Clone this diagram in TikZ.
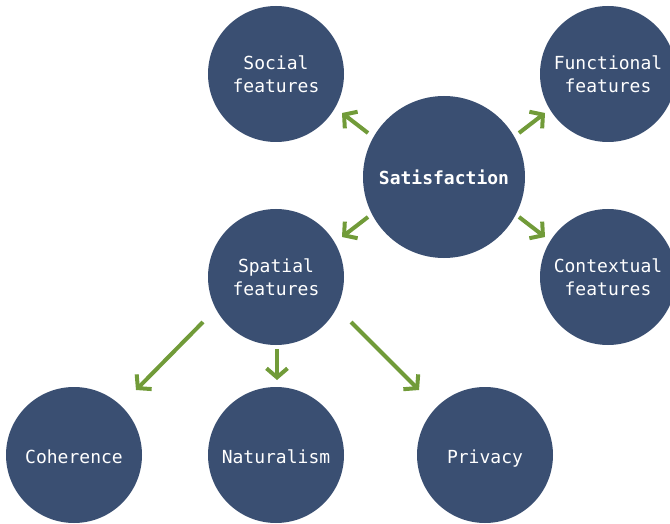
\documentclass[tikz,border=0pt]{standalone}
\usepackage{fontspec}
\setmonofont{DejaVu Sans Mono}
\usetikzlibrary{arrows.meta}
\definecolor{bubble}{RGB}{58,79,114}
\definecolor{link}{RGB}{113,155,57}
\tikzset{
  bubble/.style={circle, fill=bubble, draw=none, minimum size=#1, inner sep=0pt,
    text=white, align=center, font=\ttfamily\fontsize{18}{23}\selectfont},
  bubble/.default=136pt,
  oneline/.style={text height=18pt, text depth=2pt},
  link/.style={draw=link, line width=4pt,
    -{Straight Barb[length=9pt,width=21pt,line width=4pt]}}
}
\begin{document}
\begin{tikzpicture}[x=1pt,y=-1pt]
\useasboundingbox (0,0) rectangle (670,524);
\clip (0,0) rectangle (670,524);
% hub and its four feature groups
\node[bubble=162pt, font=\ttfamily\bfseries\fontsize{18}{23}\selectfont] (sat) at (444,177) {Satisfaction};
\node[bubble] (soc) at (276,74)  {Social\\features};
\node[bubble] (fun) at (608,74)  {Functional\\features};
\node[bubble] (spa) at (276,277) {Spatial\\features};
\node[bubble] (con) at (608,277) {Contextual\\features};
% spatial sub-features
\node[bubble, oneline] (coh) at (74,455)  {Coherence};
\node[bubble, oneline] (nat) at (276,455) {Naturalism};
\node[bubble, oneline] (pri) at (485,455) {Privacy};
% connectors
\draw[link] ([shift={(-76,-44)}]sat.center) -- ([shift={(66,39)}]soc.center);
\draw[link] ([shift={(75,-44)}]sat.center)  -- ([shift={(-63,39)}]fun.center);
\draw[link] ([shift={(-76,40)}]sat.center)  -- ([shift={(66,-40)}]spa.center);
\draw[link] ([shift={(75,40)}]sat.center)   -- ([shift={(-63,-40)}]con.center);
\draw[link] ([shift={(-73,45)}]spa.center)  -- ([shift={(62,-65)}]coh.center);
\draw[link] ([shift={(1,72)}]spa.center)    -- ([shift={(1,-75)}]nat.center);
\draw[link] ([shift={(75,45)}]spa.center)   -- ([shift={(-66,-65)}]pri.center);
\end{tikzpicture}
\end{document}
